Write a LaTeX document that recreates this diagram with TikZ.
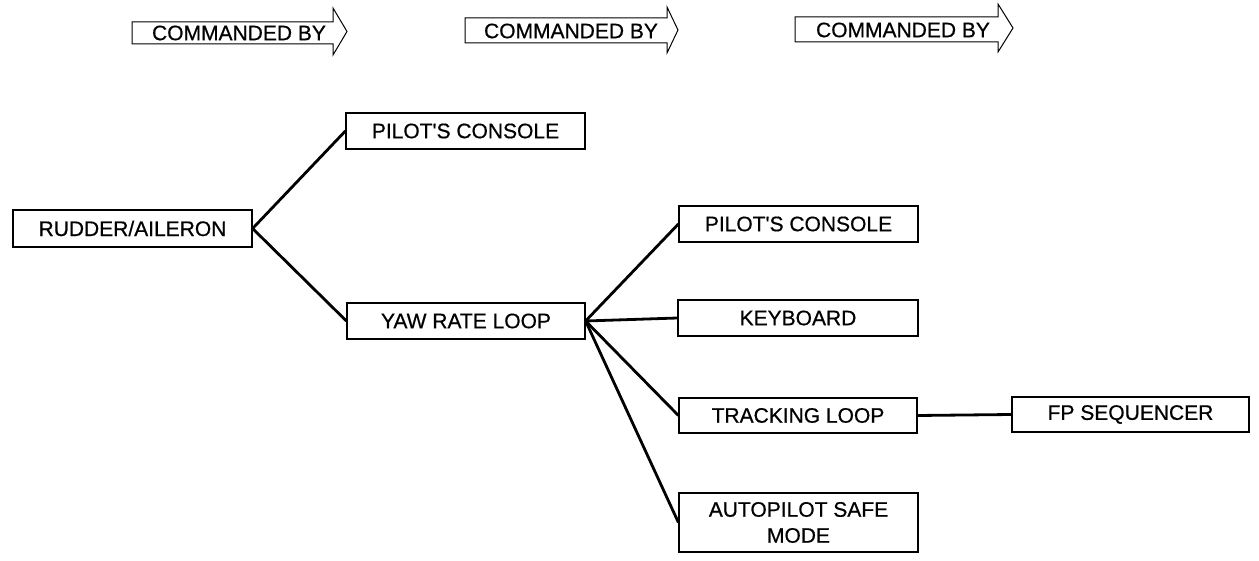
\documentclass[tikz,border=0pt]{standalone}
\usepackage{fontspec}
\setmainfont{Liberation Sans}[FakeBold=0.6]
\begin{document}
\begin{tikzpicture}[x=1pt,y=-1pt,
  box/.style={draw,line width=1.2pt,inner sep=0pt,align=center,
    font=\fontsize{21}{26}\selectfont},
  link/.style={line width=2.8pt},
  cmdarrow/.style={draw,line width=1pt,line join=miter},
  cmdtext/.style={inner sep=0pt,font=\fontsize{21}{26}\selectfont}]
\useasboundingbox (0,0) rectangle (1259,561);
% COMMANDED BY arrows
\draw[cmdarrow] (132,22) -- (333,22) -- (333,8) -- (347,31.5) -- (333,55) -- (333,44) -- (132,44) -- cycle;
\node[cmdtext] (cb1) at (239,33) {COMMANDED BY};
\draw[cmdarrow] (465,18) -- (667,18) -- (667,7) -- (678,30) -- (667,53) -- (667,43) -- (465,43) -- cycle;
\node[cmdtext] (cb2) at (571,31) {COMMANDED BY};
\draw[cmdarrow] (795,17) -- (998,17) -- (998,4) -- (1013,28) -- (998,52) -- (998,42) -- (795,42) -- cycle;
\node[cmdtext] (cb3) at (903,30) {COMMANDED BY};
% boxes
\node[box,minimum width=239pt,minimum height=37pt] (rud) at (132.5,228.5) {RUDDER/AILERON};
\node[box,minimum width=239pt,minimum height=36pt] (pc1) at (465.5,131) {PILOT\textquotesingle S CONSOLE};
\node[box,minimum width=238pt,minimum height=36pt] (yaw) at (466,321) {YAW RATE LOOP};
\node[box,minimum width=239pt,minimum height=36pt] (pc2) at (798.5,224) {PILOT\textquotesingle S CONSOLE};
\node[box,minimum width=240pt,minimum height=36pt] (kb) at (798,318) {KEYBOARD};
\node[box,minimum width=238pt,minimum height=35pt] (trk) at (798,415.5) {TRACKING LOOP};
\node[box,minimum width=237pt,minimum height=35pt] (fp) at (1130.5,414.5) {FP SEQUENCER};
\node[box,minimum width=239pt,minimum height=59pt] (ap) at (798.5,522.5) {AUTOPILOT SAFE\\MODE};
% connectors
\draw[link] (rud.east) -- (pc1.west);
\draw[link] (rud.east) -- (yaw.west);
\draw[link] (yaw.east) -- (pc2.west);
\draw[link] (yaw.east) -- (kb.west);
\draw[link] (yaw.east) -- (trk.west);
\draw[link] (yaw.east) -- (ap.west);
\draw[link] (trk.east) -- (fp.west);
\end{tikzpicture}
\end{document}
